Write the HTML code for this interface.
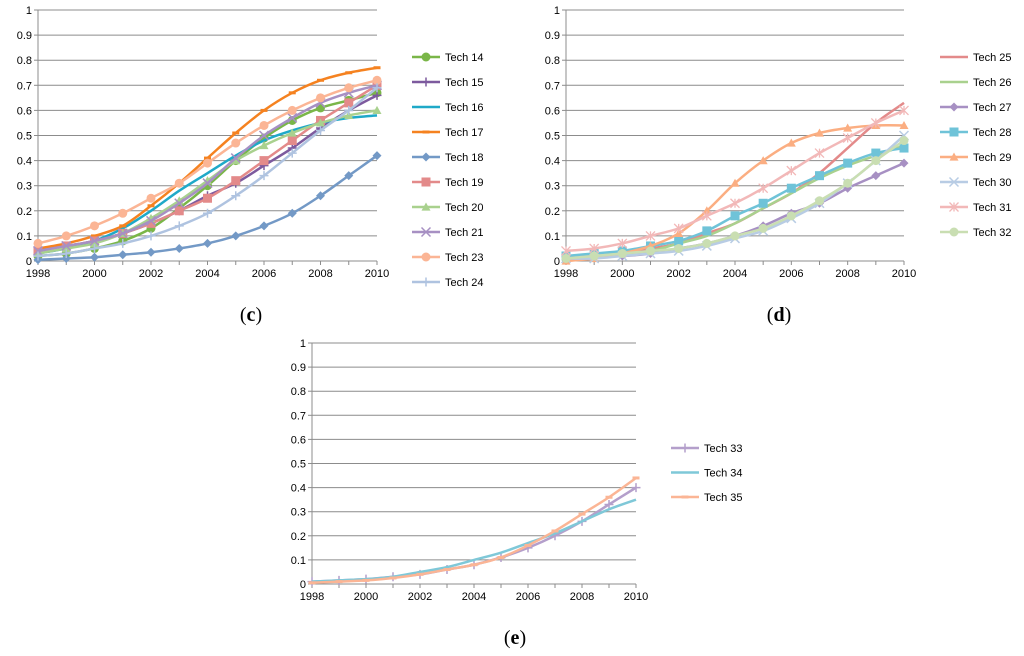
<!DOCTYPE html>
<html><head><meta charset="utf-8">
<style>
html,body{margin:0;padding:0;background:#fff;}
svg{display:block;font-family:"Liberation Sans",sans-serif;}
</style></head>
<body>
<svg id="fig" width="1024" height="656" viewBox="0 0 1024 656"></svg>
<script>
const years = [1998,1999,2000,2001,2002,2003,2004,2005,2006,2007,2008,2009,2010];
const yTicks = [0,0.1,0.2,0.3,0.4,0.5,0.6,0.7,0.8,0.9,1];
const xTickLabels = ["1998","2000","2002","2004","2006","2008","2010"];

const t14 = [.02,.03,.05,.08,.13,.21,.30,.40,.49,.56,.61,.64,.67];
const t15 = [.05,.06,.08,.11,.15,.20,.26,.31,.38,.45,.53,.60,.66];
const t16 = [.03,.05,.08,.13,.20,.28,.35,.42,.48,.52,.55,.57,.58];
const t17 = [.05,.07,.10,.14,.22,.31,.41,.51,.60,.67,.72,.75,.77];
const t18 = [.005,.01,.015,.025,.035,.05,.07,.10,.14,.19,.26,.34,.42];
const t19 = [.04,.06,.08,.11,.15,.20,.25,.32,.40,.48,.56,.63,.70];
const t20 = [.03,.05,.07,.11,.17,.24,.32,.40,.46,.51,.55,.58,.60];
const t21 = [.04,.06,.08,.11,.16,.23,.31,.41,.50,.57,.63,.67,.70];
const t23 = [.07,.10,.14,.19,.25,.31,.39,.47,.54,.60,.65,.69,.72];
const t24 = [.02,.03,.05,.07,.10,.14,.19,.26,.34,.43,.52,.60,.69];

const t25 = [.01,.02,.03,.05,.07,.11,.15,.21,.27,.35,.45,.55,.63];
const t26 = [.01,.02,.03,.04,.07,.10,.15,.21,.27,.33,.38,.42,.46];
const t27 = [.01,.02,.02,.03,.05,.07,.10,.14,.19,.23,.29,.34,.39];
const t28 = [.02,.03,.04,.06,.08,.12,.18,.23,.29,.34,.39,.43,.45];
const t29 = [.00,.01,.03,.06,.11,.20,.31,.40,.47,.51,.53,.54,.54];
const t30 = [.01,.01,.02,.03,.04,.06,.09,.12,.17,.23,.31,.40,.50];
const t31 = [.04,.05,.07,.10,.13,.18,.23,.29,.36,.43,.49,.55,.60];
const t32 = [.01,.02,.03,.04,.05,.07,.10,.13,.18,.24,.31,.40,.48];

const t33 = [.01,.015,.02,.03,.04,.06,.08,.11,.15,.20,.26,.33,.40];
const t34 = [.01,.015,.02,.03,.05,.07,.10,.13,.17,.21,.26,.31,.35];
const t35 = [.005,.01,.015,.025,.04,.06,.08,.11,.16,.22,.29,.36,.44];

const NS="http://www.w3.org/2000/svg";
const svg=document.getElementById('fig');
function mk(tag,attrs,parent){const e=document.createElementNS(NS,tag);for(const k in attrs)e.setAttribute(k,attrs[k]);(parent||svg).appendChild(e);return e;}

function smoothPath(pts){
  let d="M"+pts[0][0]+","+pts[0][1];
  for(let i=0;i<pts.length-1;i++){
    const p0=pts[Math.max(0,i-1)],p1=pts[i],p2=pts[i+1],p3=pts[Math.min(pts.length-1,i+2)];
    const c1=[p1[0]+(p2[0]-p0[0])/6,p1[1]+(p2[1]-p0[1])/6];
    const c2=[p2[0]-(p3[0]-p1[0])/6,p2[1]-(p3[1]-p1[1])/6];
    d+=` C${c1[0]},${c1[1]} ${c2[0]},${c2[1]} ${p2[0]},${p2[1]}`;
  }
  return d;
}
function marker(g,type,x,y,c){
  const s=4.5;
  if(type==='circle')mk('circle',{cx:x,cy:y,r:s,fill:c},g);
  else if(type==='square')mk('rect',{x:x-s,y:y-s,width:2*s,height:2*s,fill:c},g);
  else if(type==='diamond')mk('polygon',{points:`${x},${y-s} ${x+s},${y} ${x},${y+s} ${x-s},${y}`,fill:c},g);
  else if(type==='triangle')mk('polygon',{points:`${x},${y-s} ${x+s},${y+s*0.8} ${x-s},${y+s*0.8}`,fill:c},g);
  else if(type==='plus'){mk('path',{d:`M${x-s},${y}H${x+s}M${x},${y-s}V${y+s}`,stroke:c,'stroke-width':1.5},g);}
  else if(type==='x'){mk('path',{d:`M${x-s},${y-s}L${x+s},${y+s}M${x-s},${y+s}L${x+s},${y-s}`,stroke:c,'stroke-width':1.5},g);}
  else if(type==='star'){mk('path',{d:`M${x-s},${y-s}L${x+s},${y+s}M${x-s},${y+s}L${x+s},${y-s}M${x},${y-s}V${y+s}`,stroke:c,'stroke-width':1.3},g);}
  else if(type==='dash')mk('rect',{x:x-3.5,y:y-1.5,width:7,height:3,fill:c},g);
}
function chart(name,L,R,T,B,series,legX,legY,legStep,label,labX,labY){
  const g=mk('g',{});
  
  
  const xs=v=>L+(v-1998)/(2010-1998)*(R-L);
  const ys=v=>B-v*(B-T);
  yTicks.forEach(t=>{
    const y=ys(t);
    if(t>0){const gl=mk('line',{x1:L,x2:R,y1:y,y2:y,stroke:'#8c8c8c','stroke-width':1},g);
      }
    mk('line',{x1:L-4,x2:L,y1:y,y2:y,stroke:'#8c8c8c'},g);
    const tx=mk('text',{x:L-6,y:y+4,'font-size':11,'text-anchor':'end',fill:'#000'},g);
    tx.textContent=String(t);
    
  });
  mk('line',{x1:L,x2:L,y1:T,y2:B,stroke:'#8c8c8c'},g);
  mk('line',{x1:L,x2:R,y1:B,y2:B,stroke:'#8c8c8c'},g);
  years.forEach(yr=>mk('line',{x1:xs(yr),x2:xs(yr),y1:B,y2:B+4,stroke:'#8c8c8c'},g));
  xTickLabels.forEach(l=>{
    const tx=mk('text',{x:xs(+l),y:B+16,'font-size':11,'text-anchor':'middle',fill:'#000'},g);
    tx.textContent=l;
    
  });
  series.forEach((s,i)=>{
    const pts=s.data.map((v,j)=>[xs(years[j]),ys(v)]);
    const sg=mk('g',{},g);
    
    
    mk('path',{d:smoothPath(pts),fill:'none',stroke:s.color,'stroke-width':2.5},sg);
    if(s.marker)pts.forEach(p=>marker(sg,s.marker,p[0],p[1],s.color));
    const ly=legY+i*legStep;
    const lg=mk('g',{},g);
    
    
    mk('line',{x1:legX,x2:legX+28,y1:ly,y2:ly,stroke:s.color,'stroke-width':2.5},lg);
    if(s.marker)marker(lg,s.marker,legX+14,ly,s.color);
    const lt=mk('text',{x:legX+33,y:ly+4,'font-size':11,fill:'#000'},lg);
    lt.textContent=s.name;
  });
  const lb=mk('text',{x:labX,y:labY,'font-size':20,'text-anchor':'middle','font-family':'Liberation Serif, serif'},svg);
  lb.innerHTML='(<tspan font-weight="bold">'+label+'</tspan>)';
  
  
}
chart('chart-c',38,377,10,261,[
 {name:'Tech 14',data:t14,color:'#7ab648',marker:'circle'},
 {name:'Tech 15',data:t15,color:'#7d5a9e',marker:'plus'},
 {name:'Tech 16',data:t16,color:'#1fa9c8',marker:null},
 {name:'Tech 17',data:t17,color:'#f58220',marker:'dash'},
 {name:'Tech 18',data:t18,color:'#7399c6',marker:'diamond'},
 {name:'Tech 19',data:t19,color:'#e38a8a',marker:'square'},
 {name:'Tech 20',data:t20,color:'#a9d18e',marker:'triangle'},
 {name:'Tech 21',data:t21,color:'#a790c3',marker:'x'},
 {name:'Tech 23',data:t23,color:'#fbb595',marker:'circle'},
 {name:'Tech 24',data:t24,color:'#afc3e0',marker:'plus'}
],412,57,25,'c',251,321);
chart('chart-d',566,904,10,261,[
 {name:'Tech 25',data:t25,color:'#e38a8a',marker:null},
 {name:'Tech 26',data:t26,color:'#a9d18e',marker:null},
 {name:'Tech 27',data:t27,color:'#a790c3',marker:'diamond'},
 {name:'Tech 28',data:t28,color:'#6fc3d8',marker:'square'},
 {name:'Tech 29',data:t29,color:'#fbae82',marker:'triangle'},
 {name:'Tech 30',data:t30,color:'#b8cce4',marker:'x'},
 {name:'Tech 31',data:t31,color:'#f2b8b8',marker:'star'},
 {name:'Tech 32',data:t32,color:'#c9deb2',marker:'circle'}
],940,57,25,'d',779,321);
chart('chart-e',312,636,343,584,[
 {name:'Tech 33',data:t33,color:'#b49fcb',marker:'plus'},
 {name:'Tech 34',data:t34,color:'#7fc8d8',marker:null},
 {name:'Tech 35',data:t35,color:'#fbb595',marker:'dash'}
],671,448,24.5,'e',515,644);
</script>
</body></html>
